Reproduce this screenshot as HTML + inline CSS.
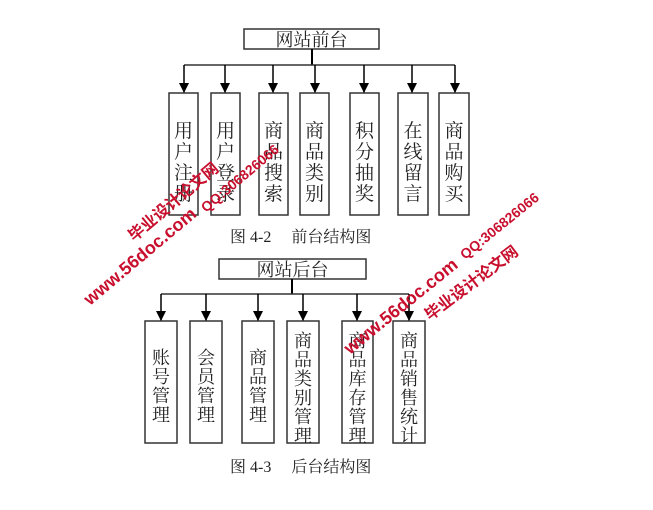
<!DOCTYPE html>
<html><head><meta charset="utf-8"><style>
html,body{margin:0;padding:0;background:#fff;}
svg{display:block;}
.t{font-family:"Liberation Serif","Noto Serif CJK SC",serif;fill:#222;}
.w{font-family:"Liberation Sans","Noto Sans CJK SC",sans-serif;fill:#c8102e;font-weight:bold;}
</style></head><body>
<svg width="653" height="510" viewBox="0 0 653 510" xmlns="http://www.w3.org/2000/svg">
<defs><marker id="a" markerWidth="10" markerHeight="10" refX="10" refY="5" orient="auto" markerUnits="userSpaceOnUse"><path d="M0,0 L10,5 L0,10 z" fill="#000"/></marker></defs>
<g stroke="#333" stroke-width="1.5" fill="none">
<rect x="244" y="29" width="135" height="20"/>
<line x1="312" y1="49" x2="312" y2="65" stroke="#000" stroke-width="2"/>
<line x1="184" y1="65" x2="455" y2="65"/>
<g stroke="#000">
<line x1="184" y1="65" x2="184" y2="93" marker-end="url(#a)"/>
<line x1="225" y1="65" x2="225" y2="93" marker-end="url(#a)"/>
<line x1="273" y1="65" x2="273" y2="93" marker-end="url(#a)"/>
<line x1="315" y1="65" x2="315" y2="93" marker-end="url(#a)"/>
<line x1="364" y1="65" x2="364" y2="93" marker-end="url(#a)"/>
<line x1="412" y1="65" x2="412" y2="93" marker-end="url(#a)"/>
<line x1="455" y1="65" x2="455" y2="93" marker-end="url(#a)"/>
</g>
<rect x="169" y="93" width="29" height="122"/>
<rect x="211" y="93" width="29" height="122"/>
<rect x="259" y="93" width="29" height="122"/>
<rect x="300" y="93" width="29" height="122"/>
<rect x="350" y="93" width="29" height="122"/>
<rect x="398" y="93" width="30" height="122"/>
<rect x="439" y="93" width="30" height="122"/>

<rect x="219" y="259" width="147" height="20"/>
<line x1="292" y1="279" x2="292" y2="294" stroke="#000" stroke-width="2"/>
<line x1="161" y1="294" x2="409" y2="294"/>
<g stroke="#000">
<line x1="161" y1="294" x2="161" y2="321" marker-end="url(#a)"/>
<line x1="206" y1="294" x2="206" y2="321" marker-end="url(#a)"/>
<line x1="258" y1="294" x2="258" y2="321" marker-end="url(#a)"/>
<line x1="303" y1="294" x2="303" y2="321" marker-end="url(#a)"/>
<line x1="357" y1="294" x2="357" y2="321" marker-end="url(#a)"/>
<line x1="409" y1="294" x2="409" y2="321" marker-end="url(#a)"/>
</g>
<rect x="145" y="321" width="32" height="122"/>
<rect x="190" y="321" width="32" height="122"/>
<rect x="242" y="321" width="32" height="122"/>
<rect x="287" y="321" width="32" height="122"/>
<rect x="342" y="321" width="31" height="122"/>
<rect x="393" y="321" width="32" height="122"/>
</g>

<g class="t" font-size="18" text-anchor="middle">
<text x="311.5" y="46">网站前台</text>
<text x="292.5" y="276">网站后台</text>
</g>
<g class="t" font-size="19" text-anchor="middle">
<text x="183.5" y="137">用</text><text x="183.5" y="158">户</text><text x="183.5" y="179">注</text><text x="183.5" y="200">册</text>
<text x="225.5" y="137">用</text><text x="225.5" y="158">户</text><text x="225.5" y="179">登</text><text x="225.5" y="200">录</text>
<text x="273.5" y="137">商</text><text x="273.5" y="158">品</text><text x="273.5" y="179">搜</text><text x="273.5" y="200">索</text>
<text x="314.5" y="137">商</text><text x="314.5" y="158">品</text><text x="314.5" y="179">类</text><text x="314.5" y="200">别</text>
<text x="364.5" y="137">积</text><text x="364.5" y="158">分</text><text x="364.5" y="179">抽</text><text x="364.5" y="200">奖</text>
<text x="413" y="137">在</text><text x="413" y="158">线</text><text x="413" y="179">留</text><text x="413" y="200">言</text>
<text x="454" y="137">商</text><text x="454" y="158">品</text><text x="454" y="179">购</text><text x="454" y="200">买</text>
</g>
<g class="t" font-size="18" text-anchor="middle">
<text x="161" y="364">账</text><text x="161" y="383">号</text><text x="161" y="402">管</text><text x="161" y="421">理</text>
<text x="206" y="364">会</text><text x="206" y="383">员</text><text x="206" y="402">管</text><text x="206" y="421">理</text>
<text x="258" y="364">商</text><text x="258" y="383">品</text><text x="258" y="402">管</text><text x="258" y="421">理</text>
<text x="303" y="347">商</text><text x="303" y="366">品</text><text x="303" y="385">类</text><text x="303" y="404">别</text><text x="303" y="423">管</text><text x="303" y="442" >理</text>
<text x="357.5" y="347">商</text><text x="357.5" y="366">品</text><text x="357.5" y="385">库</text><text x="357.5" y="404">存</text><text x="357.5" y="423">管</text><text x="357.5" y="442">理</text>
<text x="409" y="347">商</text><text x="409" y="366">品</text><text x="409" y="385">销</text><text x="409" y="404">售</text><text x="409" y="423">统</text><text x="409" y="442">计</text>
</g>
<g class="t" font-size="16">
<text x="230" y="242">图 4-2　 前台结构图</text>
<text x="230" y="472">图 4-3　 后台结构图</text>
</g>

<g class="w">
<text x="0" y="0" font-size="16" transform="translate(134,242) rotate(-40)">毕业设计论文网</text>
<text x="0" y="0" font-size="14" transform="translate(206,213) rotate(-40)">QQ:306826066</text>
<text x="0" y="0" font-size="18" transform="translate(90,306) rotate(-40)">www.56doc.com</text>
<text x="0" y="0" font-size="18" transform="translate(350,355) rotate(-39)">www.56doc.com</text>
<text x="0" y="0" font-size="14" transform="translate(465,260) rotate(-39)">QQ:306826066</text>
<text x="0" y="0" font-size="16" transform="translate(430,321) rotate(-37)">毕业设计论文网</text>
</g>
</svg>
</body></html>
